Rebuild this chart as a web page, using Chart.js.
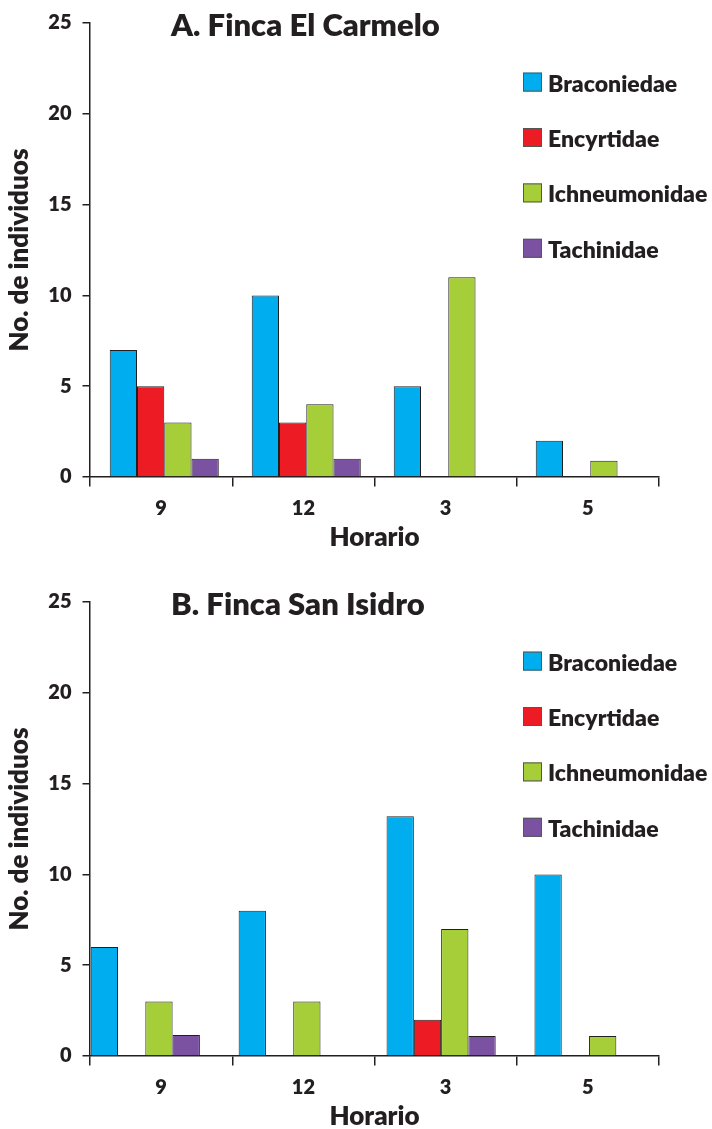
<!DOCTYPE html>
<html><head><meta charset="utf-8">
<script src="https://cdn.jsdelivr.net/npm/chart.js@4.4.1/dist/chart.umd.min.js"></script>
<style>
html,body{margin:0;padding:0;background:#fff;overflow:hidden;width:712px;height:1129px;}
.wrap{position:absolute;left:0;width:712px;height:579px;}
#w1{top:0}
#w2{top:579px}
</style></head><body>
<div class="wrap" id="w1"><canvas id="c1" width="712" height="579"></canvas></div>
<div class="wrap" id="w2"><canvas id="c2" width="712" height="579"></canvas></div>
<script>
// ---- data ----
const categories = ['9', '12', '3', '5'];
const seriesNames = ['Braconiedae', 'Encyrtidae', 'Ichneumonidae', 'Tachinidae'];
const seriesColors = ['#00aeef', '#ed1c24', '#a6ce39', '#7b51a1'];
const yTicks = [0, 5, 10, 15, 20, 25];
const titleA = 'A. Finca El Carmelo';
const titleB = 'B. Finca San Isidro';
const xTitle = 'Horario';
const yTitle = 'No. de individuos';

// A. Finca El Carmelo
const carmeloBraconiedae   = [7, 10, 5, 2];
const carmeloEncyrtidae    = [5, 3, 0, 0];
const carmeloIchneumonidae = [3, 4, 11, 0.9];
const carmeloTachinidae    = [1, 1, 0, 0];

// B. Finca San Isidro
const isidroBraconiedae   = [6, 8, 13.2, 10];
const isidroEncyrtidae    = [0, 0, 2, 0];
const isidroIchneumonidae = [3, 3, 7, 1.1];
const isidroTachinidae    = [1.15, 0, 1.1, 0];

// ---- style ----
const INK = '#231f20';
const FONT = 'Lato';
const W = 800;

const overlay = {
  id: 'overlay',
  afterDraw(chart, args, opts) {
    const ctx = chart.ctx, a = chart.chartArea;
    ctx.save();
    ctx.fillStyle = INK;
    ctx.textAlign = 'left';
    ctx.textBaseline = 'alphabetic';
    ctx.font = W + ' 31px ' + FONT;
    ctx.fillText(opts.title, opts.titleX, a.top + opts.titleDy);
    ctx.font = W + ' 23px ' + FONT;
    chart.data.datasets.forEach((ds, i) => {
      const y = a.top + opts.legendTop + i * opts.legendGap;
      ctx.fillStyle = ds.backgroundColor;
      ctx.fillRect(opts.legendX, y, 19, 19);
      ctx.strokeStyle = '#555';
      ctx.lineWidth = 1;
      ctx.strokeRect(opts.legendX + 0.5, y + 0.5, 18, 18);
      ctx.fillStyle = INK;
      ctx.fillText(ds.label, opts.legendX + 25, y + 19);
    });
    ctx.restore();
  }
};

function makeChart(id, title, series, barMin, barMax, catPct) {
  const datasets = series.map((vals, k) => ({
    label: seriesNames[k],
    data: vals.map((v, i) => ({ x: i, y: v })),
    backgroundColor: seriesColors[k],
    borderColor: INK,
    borderWidth: 1,
    borderSkipped: 'start',
    categoryPercentage: catPct,
    barPercentage: 1,
    xAxisID: 'xb',
    yAxisID: 'y'
  }));
  return new Chart(document.getElementById(id), {
    type: 'bar',
    data: { labels: categories, datasets },
    plugins: [overlay],
    options: {
      responsive: false,
      animation: false,
      events: [],
      layout: { padding: { left: 0, top: 22, right: 53, bottom: 0 } },
      plugins: {
        legend: { display: false },
        tooltip: { enabled: false },
        overlay: { title, titleX: 171, titleDy: 12.8, legendX: 523, legendTop: 49.6, legendGap: 55.4 }
      },
      scales: {
        x: {
          type: 'category',
          offset: true,
          grid: { offset: true, drawOnChartArea: false, color: INK, lineWidth: 1.5, tickLength: 9.6 },
          border: { color: INK, width: 1.5 },
          ticks: { font: { family: FONT, weight: W, size: 20 }, color: INK, padding: 10, maxRotation: 0 },
          title: { display: true, text: xTitle, color: INK, font: { family: FONT, weight: W, size: 26 }, padding: { top: 0, bottom: 26 } },
          afterFit: s => { s.height = 102; }
        },
        xb: {
          type: 'linear',
          display: false,
          offset: false,
          min: barMin,
          max: barMax,
          afterBuildTicks: s => { s.ticks = categories.map((c, i) => ({ value: i })); }
        },
        y: {
          type: 'linear',
          min: 0,
          max: 25,
          afterBuildTicks: s => { s.ticks = yTicks.map(v => ({ value: v })); },
          ticks: { font: { family: FONT, weight: W, size: 20 }, color: INK, padding: 11 },
          grid: { drawOnChartArea: false, color: INK, lineWidth: 1.5, tickLength: 7.5 },
          border: { color: INK, width: 1.5 },
          title: { display: true, text: yTitle, color: INK, font: { family: FONT, weight: W, size: 26 }, padding: { top: 4, bottom: 0 } },
          afterFit: s => { s.width = 90; }
        }
      }
    }
  });
}

makeChart('c1', titleA,
  [carmeloBraconiedae, carmeloEncyrtidae, carmeloIchneumonidae, carmeloTachinidae],
  -0.523, 3.484, 0.768);
makeChart('c2', titleB,
  [isidroBraconiedae, isidroEncyrtidae, isidroIchneumonidae, isidroTachinidae],
  -0.374, 3.473, 0.738);
</script>
</body></html>
